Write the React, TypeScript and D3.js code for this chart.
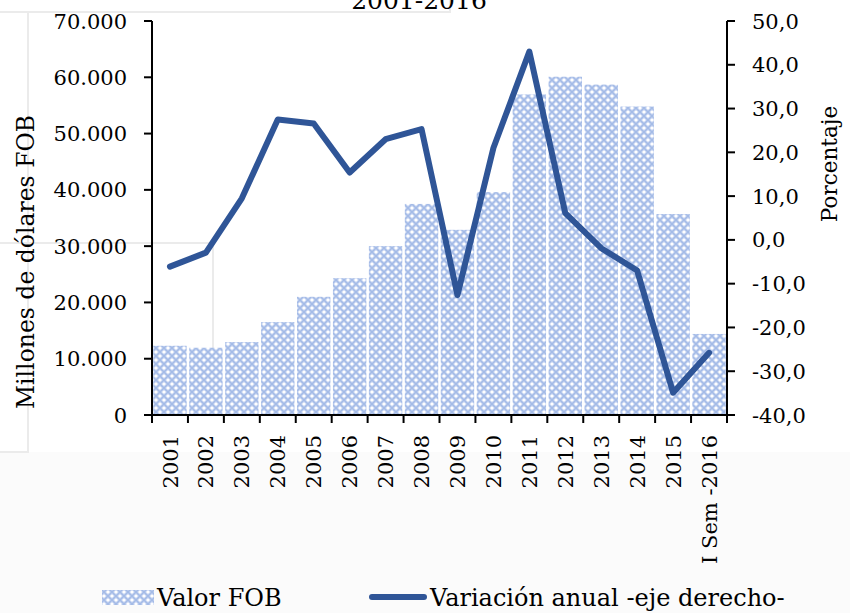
import React from 'react';
import * as d3 from 'd3';

const categories = ['2001','2002','2003','2004','2005','2006','2007','2008','2009','2010','2011','2012','2013','2014','2015','I Sem -2016'];
const valorFOB = [12300, 11950, 12950, 16500, 21000, 24300, 30000, 37500, 32900, 39600, 56950, 60100, 58700, 54800, 35700, 14400];
const variacion = [-6.1, -2.9, 9.5, 27.5, 26.6, 15.4, 23.0, 25.3, -12.6, 21.0, 43.0, 6.1, -1.9, -7.0, -34.9, -25.8];
const leftTicks = [0, 10000, 20000, 30000, 40000, 50000, 60000, 70000];
const rightTicks = [-40, -30, -20, -10, 0, 10, 20, 30, 40, 50];
const title = '2001-2016';
const leftTitle = 'Millones de dólares FOB';
const rightTitle = 'Porcentaje';
const legendBar = 'Valor FOB';
const legendLine = 'Variación anual -eje derecho-';

const W = 850, H = 613;
const X0 = 152, X1 = 727, Y0 = 21, Y1 = 415;
const FONT = '"DejaVu Serif", serif';
const LINE = '#2f5597';

const loc = d3.formatLocale({ decimal: ',', thousands: '.', grouping: [3], currency: ['', ''], minus: '-' });
const fmtL = loc.format(',.0f');
const fmtR = loc.format(',.1f');

export default function App() {
  const x = d3.scaleBand<string>().domain(categories).range([X0, X1]).padding(0);
  const yL = d3.scaleLinear().domain([0, 70000]).range([Y1, Y0]);
  const yR = d3.scaleLinear().domain([-40, 50]).range([Y1, Y0]);
  const bw = x.bandwidth();
  const barW = bw * 0.93;
  const line = d3.line<number>()
    .x((_, i) => (x(categories[i]) as number) + bw / 2)
    .y((d) => yR(d));
  const boundaries = categories.map((c) => x(c) as number).concat([X1]);

  return (
    <svg width={W} height={H} style={{ position: 'absolute', left: 0, top: 0, background: '#fff' }} fontFamily={FONT}>
      <defs>
        <pattern id="lattice" width={8} height={8} patternUnits="userSpaceOnUse">
          <rect width={8} height={8} fill="#c6d4f1" />
          <path d="M0,0L8,8M8,0L0,8" stroke="#a4bbe7" strokeWidth={1.4} />
          <circle cx={4} cy={0} r={1.6} fill="#fff" />
          <circle cx={0} cy={4} r={1.6} fill="#fff" />
          <circle cx={8} cy={4} r={1.6} fill="#fff" />
          <circle cx={4} cy={8} r={1.6} fill="#fff" />
        </pattern>
      </defs>
      <rect x={0} y={0} width={W} height={H} fill="#fff" />
      <rect x={0} y={452} width={W} height={H - 452} fill="#fbfbfb" />
      <path d="M0,12H450V0M28,12V452H0M0,243H213V415" fill="none" stroke="#ebebeb" strokeWidth={2} />

      <text x={419} y={9} fontSize={25} textAnchor="middle" fill="#000">{title}</text>

      {valorFOB.map((v, i) => (
        <rect key={i} x={(x(categories[i]) as number) + (bw - barW) / 2} y={yL(v)} width={barW} height={Y1 - yL(v)} fill="url(#lattice)" />
      ))}

      <path d={line(variacion) || ''} fill="none" stroke={LINE} strokeWidth={6} strokeLinejoin="round" strokeLinecap="round" />

      {/* left axis */}
      <line x1={X0} x2={X0} y1={Y0} y2={Y1 + 8} stroke="#000" strokeWidth={2} />
      {leftTicks.map((t) => (
        <g key={t}>
          <line x1={X0 - 8} x2={X0} y1={yL(t)} y2={yL(t)} stroke="#000" strokeWidth={2} />
          <text x={X0 - 25} y={yL(t)} dy="0.36em" fontSize={21} textAnchor="end" fill="#000">{fmtL(t)}</text>
        </g>
      ))}
      {/* right axis */}
      <line x1={X1} x2={X1} y1={Y0} y2={Y1 + 8} stroke="#000" strokeWidth={2} />
      {rightTicks.map((t) => (
        <g key={t}>
          <line x1={X1} x2={X1 + 8} y1={yR(t)} y2={yR(t)} stroke="#000" strokeWidth={2} />
          <text x={X1 + 25} y={yR(t)} dy="0.36em" fontSize={21} textAnchor="start" fill="#000">{fmtR(t)}</text>
        </g>
      ))}
      {/* x axis */}
      <line x1={X0} x2={X1} y1={Y1} y2={Y1} stroke="#000" strokeWidth={2} />
      {boundaries.map((b, i) => (
        <line key={i} x1={b} x2={b} y1={Y1} y2={Y1 + 8} stroke="#000" strokeWidth={2} />
      ))}
      {categories.map((c) => (
        <text key={c} transform={`translate(${(x(c) as number) + bw / 2},${Y1 + 20}) rotate(-90)`} dy="0.36em" fontSize={21} textAnchor="end" fill="#000">{c}</text>
      ))}

      <text transform={`translate(34,262) rotate(-90)`} fontSize={23.5} textAnchor="middle" fill="#000">{leftTitle}</text>
      <text transform={`translate(837,164) rotate(-90)`} fontSize={21.5} textAnchor="middle" fill="#000">{rightTitle}</text>

      {/* legend */}
      <rect x={102} y={590} width={52} height={15} fill="url(#lattice)" />
      <text x={157} y={606} fontSize={24} fill="#000">{legendBar}</text>
      <line x1={372} x2={424} y1={597} y2={597} stroke={LINE} strokeWidth={6} strokeLinecap="round" />
      <text x={430} y={606} fontSize={24} fill="#000">{legendLine}</text>
    </svg>
  );
}
